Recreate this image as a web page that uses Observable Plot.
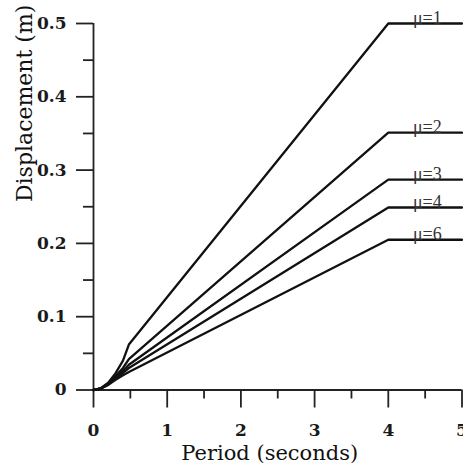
<!DOCTYPE html>
<html><head><meta charset="utf-8">
<script src="https://cdn.jsdelivr.net/npm/d3@7"></script>
<script src="https://cdn.jsdelivr.net/npm/@observablehq/plot@0.6"></script>
<style>body{margin:0;background:#fff}</style>
</head><body><div id="chart"></div>
<script>
// Data
const periods = [0, 0.1, 0.2, 0.3, 0.4, 0.48, 4, 5];
const mu1 = [0, 0.0025, 0.010, 0.023, 0.040, 0.062, 0.500, 0.500];
const mu2 = [0, 0.0022, 0.009, 0.019, 0.030, 0.042, 0.351, 0.351];
const mu3 = [0, 0.0020, 0.008, 0.017, 0.026, 0.0345, 0.287, 0.287];
const mu4 = [0, 0.0020, 0.0075, 0.0155, 0.0235, 0.030, 0.249, 0.249];
const mu6 = [0, 0.0020, 0.007, 0.014, 0.020, 0.0246, 0.205, 0.205];
const muNames = ["1", "2", "3", "4", "6"];
const seriesValues = [mu1, mu2, mu3, mu4, mu6];
const xTicks = [0, 1, 2, 3, 4, 5];
const xMinorTicks = [0.5, 1.5, 2.5, 3.5, 4.5];
const yTicks = [0, 0.1, 0.2, 0.3, 0.4, 0.5];
const yTickLabels = ["0", "0.1", "0.2", "0.3", "0.4", "0.5"];
const yMinorTicks = [0.05, 0.15, 0.25, 0.35, 0.45];
const xTitle = "Period (seconds)";
const yTitle = "Displacement (m)";

const rows = [];
seriesValues.forEach((vals, i) => vals.forEach((v, j) => rows.push({mu: muNames[i], period: periods[j], disp: v})));
const plateaus = seriesValues.map((vals, i) => ({mu: muNames[i], disp: vals[vals.length - 1]}));

const tickFont = {fontFamily: "DejaVu Serif", fontSize: 17, fontWeight: "bold", fill: "#1a1a1a"};
const axisStroke = {stroke: "#222", strokeWidth: 1.8};

const chart = Plot.plot({
  width: 463,
  height: 467,
  marginLeft: 93,
  marginRight: 1.5,
  marginTop: 23,
  marginBottom: 77.5,
  x: {domain: [0, 5], label: null, axis: null},
  y: {domain: [0, 0.5], label: null, axis: null},
  marks: [
    Plot.ruleX([0], axisStroke),
    Plot.ruleY([0], axisStroke),
    Plot.axisY(yTicks, {tickSize: 17, tickPadding: 10, tickFormat: (d, i) => yTickLabels[i], label: null, ...tickFont, ...axisStroke}),
    Plot.axisY(yMinorTicks, {tickSize: 10, tickFormat: () => "", label: null, ...axisStroke}),
    Plot.axisX(xTicks, {tickSize: 18, tickPadding: 16, tickFormat: d => String(d), label: null, ...tickFont, ...axisStroke}),
    Plot.axisX(xMinorTicks, {tickSize: 9, tickFormat: () => "", label: null, ...axisStroke}),
    Plot.line(rows, {x: "period", y: "disp", z: "mu", stroke: "#111", strokeWidth: 2.3}),
    Plot.text(plateaus, {x: 4.53, y: "disp", text: d => "\u03bc=" + d.mu, lineAnchor: "bottom", dy: 0.5, fontFamily: "Liberation Serif", fontSize: 18, fill: "#333"}),
    Plot.text([yTitle], {frameAnchor: "left", rotate: -90, dx: -69, dy: -4.7, lineAnchor: "middle", fontFamily: "DejaVu Serif", fontSize: 22, fill: "#111"}),
    Plot.text([xTitle], {frameAnchor: "bottom", dx: -8, dy: 63, lineAnchor: "middle", fontFamily: "DejaVu Serif", fontSize: 21, fill: "#111"})
  ]
});
document.getElementById("chart").appendChild(chart);
</script>
</body></html>
